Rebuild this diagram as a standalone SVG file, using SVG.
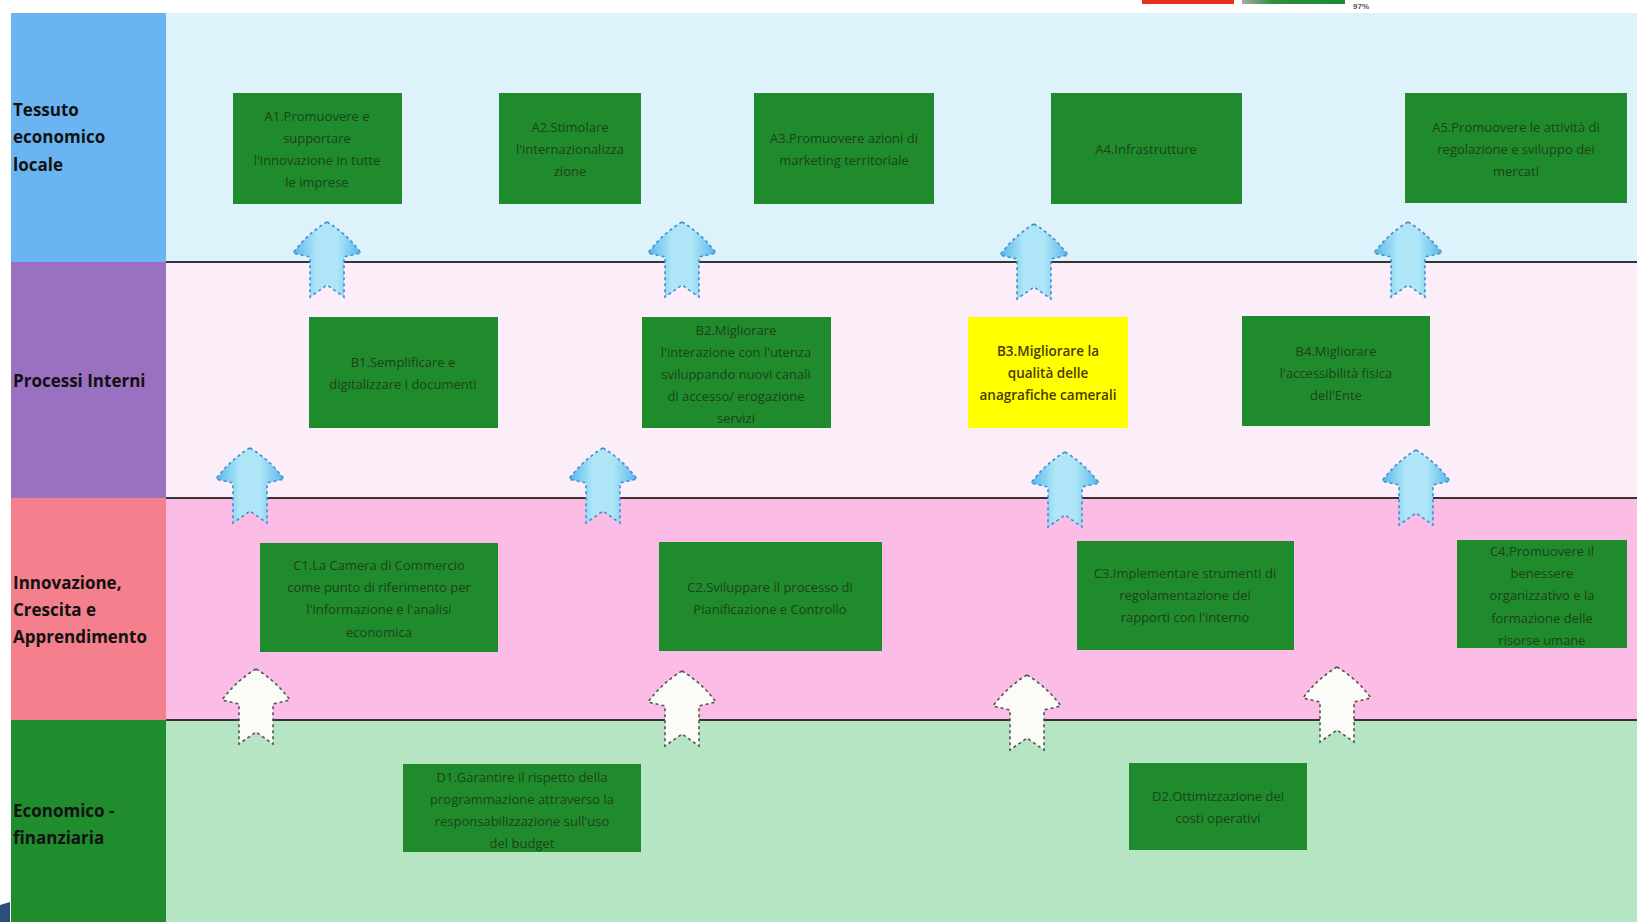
<svg xmlns="http://www.w3.org/2000/svg" width="1637" height="922" viewBox="0 0 1637 922">
<style>
.box{fill:#1f8b2d;}
.ybox{fill:#ffff00;}
.bt{font-family:"Open Sans","Liberation Sans",sans-serif;font-size:13px;fill:#1d4317;text-anchor:middle;dominant-baseline:central;}
.yt{font-family:"Open Sans","Liberation Sans",sans-serif;font-size:13.5px;fill:#4a3a00;text-anchor:middle;dominant-baseline:central;font-weight:600;}
.lt{font-family:"Open Sans","DejaVu Sans",sans-serif;font-size:17px;font-weight:700;fill:#111;}
.sep{stroke:#3a3333;stroke-width:2;}
.ba{fill:url(#bg);stroke:#3f8fd2;stroke-width:1.6;stroke-dasharray:3 3;}
.wa{fill:#fbfbf8;stroke:#555;stroke-width:1.6;stroke-dasharray:3 3;}
</style>
<defs>
<linearGradient id="bg" x1="0" y1="0" x2="1" y2="0">
<stop offset="0" stop-color="#58b6e8"/>
<stop offset="0.35" stop-color="#aee6f8"/>
<stop offset="0.65" stop-color="#aee6f8"/>
<stop offset="1" stop-color="#58b6e8"/>
</linearGradient>
<linearGradient id="gg" x1="0" y1="0" x2="1" y2="0">
<stop offset="0" stop-color="#aaa"/>
<stop offset="0.3" stop-color="#2e8f3a"/>
<stop offset="1" stop-color="#1f8b2d"/>
</linearGradient>
<path id="arr" d="M0,0 Q20,12 34,31 L17,35 L17,75 L0,63 L-17,75 L-17,35 L-34,31 Q-20,12 0,0 Z"/>
</defs>

<rect width="1637" height="922" fill="#ffffff"/>

<g id="topbars">
<rect x="1142" y="0" width="92" height="4" fill="#e8321e"/>
<rect x="1242" y="0" width="103" height="4" fill="url(#gg)"/>
<text x="1353" y="9" font-family="Liberation Sans,sans-serif" font-size="8" font-weight="700" fill="#555">97%</text>
</g>

<g id="rows">
<rect x="166" y="13" width="1471" height="249" fill="#ddf2fa"/>
<rect x="166" y="262" width="1471" height="236" fill="#fbeef8"/>
<rect x="166" y="498" width="1471" height="222" fill="#fbbde6"/>
<rect x="166" y="720" width="1471" height="202" fill="#b6e5c4"/>
</g>

<g id="lab-tessuto">
<rect x="11" y="13" width="155" height="249" fill="#6ab5f1"/>
<text class="lt" x="13" y="116">Tessuto</text>
<text class="lt" x="13" y="143">economico</text>
<text class="lt" x="13" y="171">locale</text>
</g>
<g id="lab-processi">
<rect x="11" y="262" width="155" height="236" fill="#9a70c1"/>
<text class="lt" x="13" y="387">Processi Interni</text>
</g>
<g id="lab-innovazione">
<rect x="11" y="498" width="155" height="222" fill="#f47f8d"/>
<text class="lt" x="13" y="589">Innovazione,</text>
<text class="lt" x="13" y="616">Crescita e</text>
<text class="lt" x="13" y="643">Apprendimento</text>
</g>
<g id="lab-economico">
<rect x="11" y="720" width="155" height="202" fill="#1f8c2e"/>
<text class="lt" x="13" y="817">Economico -</text>
<text class="lt" x="13" y="844">finanziaria</text>
</g>
<path d="M0,905 L10,902 L10,922 L0,922 Z" fill="#2a4f7a"/>

<g id="separators">
<line class="sep" x1="166" y1="262" x2="1637" y2="262"/>
<line class="sep" x1="166" y1="498" x2="1637" y2="498"/>
<line class="sep" x1="166" y1="720" x2="1637" y2="720"/>
</g>

<g id="A1"><rect class="box" x="233" y="93" width="169" height="111"/>
<text class="bt" x="317" y="116">A1.Promuovere e</text><text class="bt" x="317" y="138">supportare</text><text class="bt" x="317" y="160">l'innovazione in tutte</text><text class="bt" x="317" y="182">le imprese</text></g>
<g id="A2"><rect class="box" x="499" y="93" width="142" height="111"/>
<text class="bt" x="570" y="127">A2.Stimolare</text><text class="bt" x="570" y="149">l'internazionalizza</text><text class="bt" x="570" y="171">zione</text></g>
<g id="A3"><rect class="box" x="754" y="93" width="180" height="111"/>
<text class="bt" x="844" y="138">A3.Promuovere azioni di</text><text class="bt" x="844" y="160">marketing territoriale</text></g>
<g id="A4"><rect class="box" x="1051" y="93" width="191" height="111"/>
<text class="bt" x="1146" y="149">A4.Infrastrutture</text></g>
<g id="A5"><rect class="box" x="1405" y="93" width="222" height="110"/>
<text class="bt" x="1516" y="127">A5.Promuovere le attività di</text><text class="bt" x="1516" y="149">regolazione e sviluppo dei</text><text class="bt" x="1516" y="171">mercati</text></g>

<g id="B1"><rect class="box" x="309" y="317" width="189" height="111"/>
<text class="bt" x="403" y="362">B1.Semplificare e</text><text class="bt" x="403" y="384">digitalizzare i documenti</text></g>
<g id="B2"><rect class="box" x="642" y="317" width="189" height="111"/>
<text class="bt" x="736" y="330">B2.Migliorare</text><text class="bt" x="736" y="352">l'interazione con l'utenza</text><text class="bt" x="736" y="374">sviluppando nuovi canali</text><text class="bt" x="736" y="396">di accesso/ erogazione</text><text class="bt" x="736" y="418">servizi</text></g>
<g id="B3"><rect class="ybox" x="968" y="317" width="160" height="111"/>
<text class="yt" x="1048" y="351">B3.Migliorare la</text><text class="yt" x="1048" y="373">qualità delle</text><text class="yt" x="1048" y="395">anagrafiche camerali</text></g>
<g id="B4"><rect class="box" x="1242" y="316" width="188" height="110"/>
<text class="bt" x="1336" y="351">B4.Migliorare</text><text class="bt" x="1336" y="373">l'accessibilità fisica</text><text class="bt" x="1336" y="395">dell'Ente</text></g>

<g id="C1"><rect class="box" x="260" y="543" width="238" height="109"/>
<text class="bt" x="379" y="565">C1.La Camera di Commercio</text><text class="bt" x="379" y="587">come punto di riferimento per</text><text class="bt" x="379" y="609">l'informazione e l'analisi</text><text class="bt" x="379" y="632">economica</text></g>
<g id="C2"><rect class="box" x="659" y="542" width="223" height="109"/>
<text class="bt" x="770" y="587">C2.Sviluppare il processo di</text><text class="bt" x="770" y="609">Pianificazione e Controllo</text></g>
<g id="C3"><rect class="box" x="1077" y="541" width="217" height="109"/>
<text class="bt" x="1185" y="573">C3.Implementare strumenti di</text><text class="bt" x="1185" y="595">regolamentazione dei</text><text class="bt" x="1185" y="617">rapporti con l'interno</text></g>
<g id="C4"><rect class="box" x="1457" y="540" width="170" height="108"/>
<text class="bt" x="1542" y="551">C4.Promuovere il</text><text class="bt" x="1542" y="573">benessere</text><text class="bt" x="1542" y="595">organizzativo e la</text><text class="bt" x="1542" y="618">formazione delle</text><text class="bt" x="1542" y="640">risorse umane</text></g>

<g id="D1"><rect class="box" x="403" y="764" width="238" height="88"/>
<text class="bt" x="522" y="777">D1.Garantire il rispetto della</text><text class="bt" x="522" y="799">programmazione attraverso la</text><text class="bt" x="522" y="821">responsabilizzazione sull'uso</text><text class="bt" x="522" y="843">del budget</text></g>
<g id="D2"><rect class="box" x="1129" y="763" width="178" height="87"/>
<text class="bt" x="1218" y="796">D2.Ottimizzazione dei</text><text class="bt" x="1218" y="818">costi operativi</text></g>

<g id="connectors">
<use href="#arr" class="ba" transform="translate(327,222)"/>
<use href="#arr" class="ba" transform="translate(682,222)"/>
<use href="#arr" class="ba" transform="translate(1034,224)"/>
<use href="#arr" class="ba" transform="translate(1408,222)"/>
<use href="#arr" class="ba" transform="translate(250,448)"/>
<use href="#arr" class="ba" transform="translate(603,448)"/>
<use href="#arr" class="ba" transform="translate(1065,452)"/>
<use href="#arr" class="ba" transform="translate(1416,450)"/>
<use href="#arr" class="wa" transform="translate(256,669)"/>
<use href="#arr" class="wa" transform="translate(682,671)"/>
<use href="#arr" class="wa" transform="translate(1027,675)"/>
<use href="#arr" class="wa" transform="translate(1337,667)"/>
</g>
</svg>
